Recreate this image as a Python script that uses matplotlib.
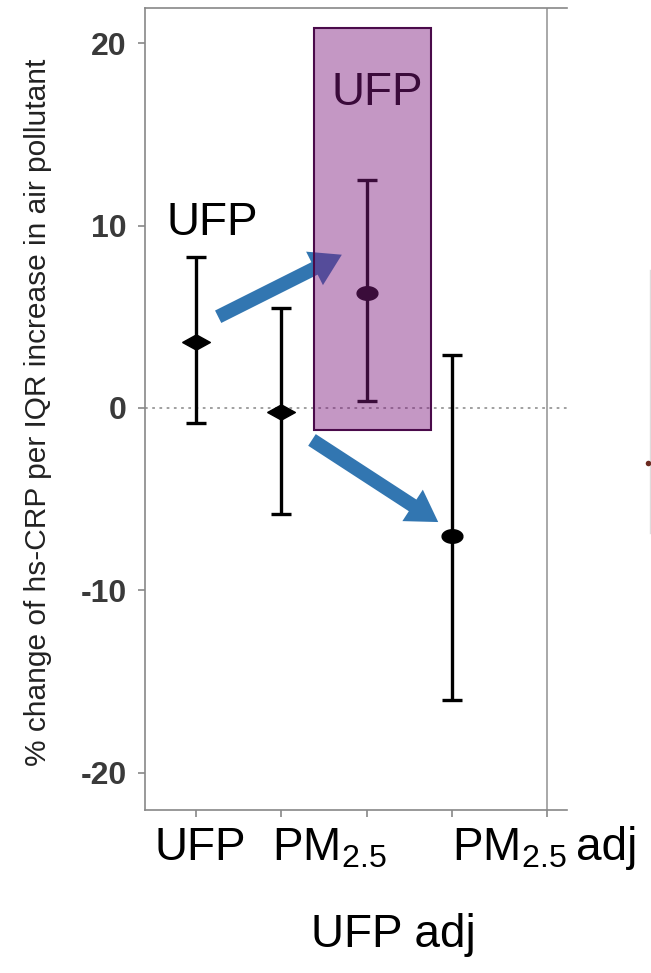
import numpy as np
import matplotlib
matplotlib.use("Agg")
import matplotlib.pyplot as plt
from matplotlib.path import Path
from matplotlib.patches import Rectangle
from matplotlib.lines import Line2D

plt.rcParams['font.family'] = ['Liberation Sans', 'DejaVu Sans']
plt.rcParams['mathtext.fontset'] = 'custom'
plt.rcParams['mathtext.rm'] = 'Liberation Sans'

# estimates (% change) with 95% CI
pos = [1, 2, 3, 4]
est = [3.6, -0.2, 6.3, -7.0]
lo = [-0.8, -5.8, 0.4, -16.0]
hi = [8.3, 5.5, 12.5, 2.9]
yticks = [-20, -10, 0, 10, 20]
xticks = [1, 2, 3, 4, 5.12]

# squashed marker shapes like in the screenshot
diamond = Path([(-1, 0), (0, 0.55), (1, 0), (0, -0.55), (-1, 0)])
t = np.linspace(0, 2 * np.pi, 40)
ellipse = Path(np.column_stack([np.cos(t), 0.65 * np.sin(t)]))
markers = [diamond, diamond, ellipse, ellipse]
msizes = [20, 20, 15, 15]

fig = plt.figure(figsize=(6.51, 9.73), dpi=100)
ax = fig.add_axes([0.2227, 0.1675, 0.6483, 0.8243])
ax.set_xlim(0.402, 5.35)
ax.set_ylim(-22.03, 21.92)

ax.axhline(0, color='#999999', lw=1.3, ls=(0, (1.5, 2.5)), zorder=1)
ax.axvline(5.12, color='#999999', lw=1.2, zorder=1)

for i in range(len(pos)):
    ax.errorbar(pos[i], est[i], yerr=[[est[i] - lo[i]], [hi[i] - est[i]]],
                fmt='none', ecolor='black', elinewidth=2.4, capsize=7,
                capthick=2.4, zorder=3)
    ax.plot(pos[i], est[i], marker=markers[i], ms=msizes[i], color='black',
            mec='black', zorder=4, ls='none')

# arrows
arrow_col = '#3276b1'
style = 'simple,head_length=22,head_width=27,tail_width=10'
ax.annotate('', xy=(2.71, 8.4), xytext=(1.26, 5.0),
            arrowprops=dict(arrowstyle=style, color=arrow_col, lw=0,
                            shrinkA=0, shrinkB=0, mutation_scale=1), zorder=2)
ax.annotate('', xy=(3.84, -6.25), xytext=(2.36, -1.75),
            arrowprops=dict(arrowstyle=style, color=arrow_col, lw=0,
                            shrinkA=0, shrinkB=0, mutation_scale=1), zorder=2)

# highlighted box on top
ax.add_patch(Rectangle((2.38, -1.2), 1.37, 22.0, facecolor='#801c80',
                       alpha=0.46, edgecolor='none', zorder=5))
ax.add_patch(Rectangle((2.38, -1.2), 1.37, 22.0, facecolor='none',
                       edgecolor='#4a0a4a', lw=1.5, zorder=6))

ax.text(1.19, 9.5, 'UFP', fontsize=33, ha='center', va='baseline', zorder=7)
ax.text(3.12, 16.6, 'UFP', fontsize=33, ha='center', va='baseline',
        color='#3a0a3a', zorder=7)

for s in ['left', 'bottom', 'top']:
    ax.spines[s].set_color('#888888')
    ax.spines[s].set_linewidth(1.2)
ax.spines['right'].set_visible(False)

ax.set_yticks(yticks)
ax.set_yticklabels([str(v) for v in yticks], fontsize=23, fontweight='bold',
                   color='#3a3a3a')
ax.set_xticks(xticks)
ax.set_xticklabels([])
ax.tick_params(axis='both', color='#888888', length=5, width=1.2)
ax.tick_params(axis='y', pad=8)

# category labels under the axis
fig.text(200 / 651, 1 - 860 / 973, 'UFP', fontsize=33, ha='center', va='baseline')
fig.text(272 / 651, 1 - 860 / 973, r'PM$_{\mathrm{2.5}}$', fontsize=33,
         ha='left', va='baseline')
fig.text(452 / 651, 1 - 860 / 973, r'PM$_{\mathrm{2.5}}$', fontsize=33,
         ha='left', va='baseline')
fig.text(576 / 651, 1 - 860 / 973, 'adj', fontsize=33, ha='left',
         va='baseline')
fig.text(393 / 651, 1 - 947 / 973, 'UFP adj', fontsize=33, ha='center',
         va='baseline')

fig.text(38 / 651, 1 - 412 / 973,
         '% change of hs-CRP per IQR increase in air pollutant',
         rotation=90, ha='center', va='center', fontsize=21.5, color='#222222',
         family=['Liberation Sans Narrow', 'Liberation Sans'])

# edge of the neighbouring panel, cut off by the crop
fig.add_artist(Line2D([650 / 651, 650 / 651], [1 - 270 / 973, 1 - 533 / 973],
                      color='#dddddd', lw=1))
fig.add_artist(Line2D([648 / 651], [1 - 463 / 973], marker='o', ms=4,
                      color='#6b2a20', mec='none'))

fig.savefig('out.png', dpi=100)
